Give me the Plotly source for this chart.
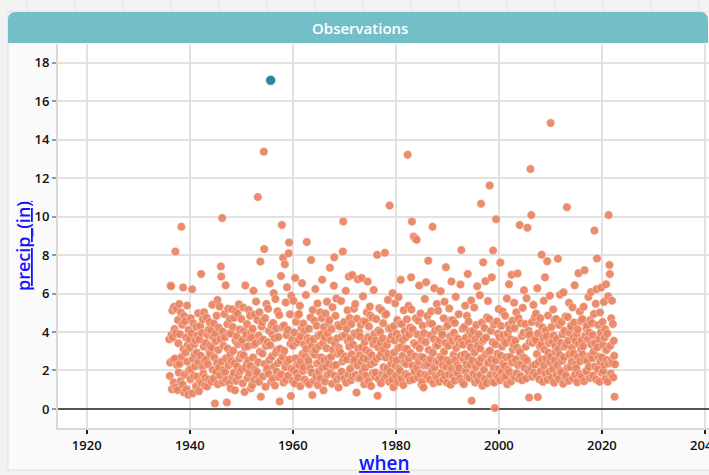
import plotly.graph_objects as go

# ---------------- data (monthly precipitation, inches) ----------------
start_year = 1936
precip_by_year = [
    [3.62, 1.71, 2.41, 6.42, 6.38, 3.85, 1.02, 5.12, 3.71, 2.55, 1.38, 5.31],   # 1936
    [4.15, 2.62, 8.18, 1.12, 3.93, 5.21, 2.28, 0.98, 4.62, 3.41, 1.89, 5.45],   # 1937
    [2.35, 3.88, 1.45, 5.02, 9.47, 2.71, 4.38, 1.26, 6.31, 3.12, 0.86, 4.82],   # 1938
    [1.78, 4.56, 2.94, 3.71, 1.02, 5.38, 2.46, 3.33, 0.74, 4.11, 2.02, 3.62],   # 1939
    [3.18, 1.55, 4.72, 2.08, 3.94, 6.22, 0.81, 2.61, 4.45, 1.73, 3.36, 2.84],   # 1940
    [2.22, 3.57, 1.19, 4.27, 2.93, 1.68, 3.82, 4.98, 2.45, 0.92, 3.61, 1.43],   # 1941
    [4.31, 2.77, 7.02, 1.36, 3.95, 2.19, 4.66, 1.84, 3.24, 5.03, 2.51, 1.21],   # 1942
    [1.62, 3.44, 2.58, 4.74, 1.17, 3.86, 2.33, 4.12, 1.53, 2.96, 4.51, 3.27],   # 1943
    [2.86, 4.09, 1.42, 3.18, 5.42, 2.04, 3.73, 1.58, 4.44, 2.67, 0.28, 3.91],   # 1944
    [3.52, 1.93, 4.85, 2.38, 5.66, 1.29, 3.07, 4.23, 2.16, 5.32, 1.74, 3.64],   # 1945
    [7.41, 6.88, 2.47, 9.92, 4.02, 1.38, 3.29, 2.03, 4.93, 3.71, 1.91, 6.43],   # 1946
    [2.64, 1.51, 0.34, 4.41, 3.14, 5.21, 2.27, 3.92, 1.33, 4.68, 2.83, 1.06],   # 1947
    [3.92, 2.49, 5.18, 1.67, 4.26, 3.03, 1.88, 4.74, 2.36, 0.97, 3.55, 5.06],   # 1948
    [1.46, 3.78, 2.21, 4.95, 3.36, 1.72, 5.44, 2.62, 4.13, 1.96, 3.47, 2.83],   # 1949
    [4.67, 2.06, 3.58, 1.34, 5.27, 2.79, 4.06, 0.88, 3.21, 6.42, 2.14, 3.86],   # 1950
    [2.33, 4.41, 1.61, 3.26, 2.52, 5.14, 1.87, 3.67, 4.84, 2.24, 1.08, 3.99],   # 1951
    [3.71, 1.24, 4.17, 2.68, 6.14, 3.34, 1.53, 4.91, 2.05, 3.42, 5.58, 1.79],   # 1952
    [1.92, 4.62, 11.02, 2.43, 3.81, 1.41, 5.03, 2.97, 7.66, 0.64, 3.54, 4.28],  # 1953
    [4.52, 2.88, 1.69, 3.61, 13.37, 8.31, 2.34, 4.72, 1.16, 3.27, 5.46, 2.02],  # 1954
    [2.11, 3.47, 5.21, 1.83, 4.06, 2.55, 6.52, 3.31, 17.08, 1.42, 4.37, 2.74], # 1955
    [3.86, 1.58, 4.47, 6.02, 2.21, 3.69, 1.22, 5.71, 2.93, 4.18, 1.93, 3.07],   # 1956
    [5.08, 2.39, 3.74, 1.66, 4.88, 0.39, 3.13, 2.51, 6.91, 1.79, 9.56, 4.26],   # 1957
    [2.72, 7.86, 1.37, 4.34, 3.02, 7.52, 2.18, 5.53, 1.51, 3.84, 6.33, 2.45],   # 1958
    [4.11, 1.74, 8.09, 8.65, 2.57, 4.92, 3.39, 0.67, 5.88, 2.09, 3.61, 1.45],   # 1959
    [3.28, 5.62, 2.02, 3.97, 1.32, 6.81, 2.63, 4.53, 1.87, 3.46, 2.31, 4.87],   # 1960
    [1.64, 3.59, 4.93, 2.27, 5.36, 1.18, 3.78, 2.49, 4.21, 6.54, 2.86, 1.97],   # 1961
    [4.44, 2.17, 3.36, 1.53, 4.08, 2.74, 5.92, 3.12, 8.68, 1.39, 3.69, 2.58],   # 1962
    [2.47, 4.17, 1.29, 3.53, 2.11, 4.76, 7.74, 1.89, 3.27, 0.72, 5.14, 2.94],   # 1963
    [3.63, 1.47, 4.58, 2.82, 6.23, 3.09, 1.71, 4.32, 2.36, 5.48, 1.23, 3.81],   # 1964
    [1.95, 3.27, 2.44, 5.03, 1.59, 3.88, 2.68, 4.71, 6.72, 2.15, 3.43, 0.97],   # 1965
    [4.26, 2.53, 3.71, 1.42, 4.96, 2.19, 3.16, 5.57, 1.78, 3.94, 2.62, 4.48],   # 1966
    [2.36, 4.62, 7.34, 1.86, 3.57, 2.71, 4.15, 1.31, 5.29, 3.08, 2.24, 6.41],   # 1967
    [7.88, 1.73, 3.42, 4.84, 2.29, 5.74, 1.51, 3.68, 2.87, 4.37, 1.12, 3.18],   # 1968
    [3.02, 4.28, 1.67, 2.91, 5.61, 1.94, 3.76, 2.47, 8.18, 9.75, 2.61, 4.52],   # 1969
    [1.58, 3.83, 2.73, 6.14, 1.36, 4.16, 2.58, 5.13, 3.52, 1.81, 6.88, 3.24],   # 1970
    [4.73, 2.09, 3.66, 1.49, 4.42, 2.84, 6.96, 1.69, 3.34, 2.46, 5.21, 3.93],   # 1971
    [2.57, 5.46, 1.77, 3.87, 0.85, 4.69, 2.26, 6.74, 3.14, 1.59, 4.02, 2.79],   # 1972
    [3.77, 1.62, 4.38, 2.47, 6.81, 3.21, 1.94, 5.86, 2.64, 4.56, 1.28, 3.49],   # 1973
    [2.14, 4.51, 3.06, 1.73, 5.03, 2.58, 6.62, 3.73, 1.44, 4.28, 2.92, 5.32],   # 1974
    [4.86, 2.31, 1.19, 3.64, 2.78, 4.74, 1.86, 3.37, 6.18, 2.41, 3.91, 1.67],   # 1975
    [1.89, 3.56, 4.67, 2.62, 8.01, 0.69, 3.21, 4.08, 1.55, 5.24, 2.73, 3.99],   # 1976
    [3.46, 1.34, 2.91, 5.12, 1.81, 3.68, 4.46, 2.17, 3.11, 1.62, 8.12, 4.88],   # 1977
    [2.67, 4.93, 1.73, 3.33, 2.12, 5.67, 2.86, 4.19, 1.41, 10.57, 3.62, 1.92],  # 1978
    [4.18, 2.36, 3.79, 1.52, 6.02, 2.66, 1.13, 4.31, 2.94, 3.56, 5.49, 2.23],   # 1979
    [1.73, 3.92, 2.53, 4.62, 1.39, 3.17, 5.82, 2.09, 3.68, 1.98, 4.43, 6.71],   # 1980
    [3.22, 1.58, 4.41, 2.76, 3.59, 1.24, 5.13, 2.42, 4.04, 3.14, 1.81, 3.73],   # 1981
    [2.34, 4.66, 3.12, 13.21, 1.71, 5.36, 2.63, 3.88, 1.48, 4.24, 2.91, 6.84],  # 1982
    [5.17, 9.74, 2.26, 4.13, 1.54, 8.96, 3.42, 1.94, 8.88, 2.73, 4.71, 3.31],   # 1983
    [8.79, 2.18, 3.87, 1.63, 4.58, 2.47, 6.42, 3.16, 1.84, 4.96, 2.71, 1.27],   # 1984
    [3.59, 1.42, 4.32, 2.68, 1.11, 3.94, 2.26, 5.72, 1.77, 3.47, 6.59, 2.43],   # 1985
    [2.29, 4.83, 1.68, 7.71, 3.06, 2.36, 4.46, 1.52, 3.82, 2.61, 5.08, 1.96],   # 1986
    [4.42, 9.47, 2.93, 1.34, 3.64, 6.28, 2.16, 4.07, 1.71, 3.28, 2.48, 5.46],   # 1987
    [1.61, 3.31, 5.11, 2.46, 4.16, 1.41, 3.58, 2.71, 6.12, 1.88, 3.98, 2.62],   # 1988
    [3.86, 2.27, 1.53, 4.71, 2.98, 5.57, 1.73, 3.43, 7.37, 2.19, 4.28, 1.36],   # 1989
    [2.53, 4.36, 3.28, 1.79, 5.22, 2.41, 3.76, 1.26, 4.61, 6.62, 2.08, 3.54],   # 1990
    [4.61, 1.71, 2.82, 3.96, 1.47, 4.47, 2.54, 5.83, 3.17, 1.92, 3.69, 2.26],   # 1991
    [1.84, 3.63, 4.92, 2.13, 3.38, 1.58, 6.47, 2.77, 8.26, 3.51, 1.39, 4.17],   # 1992
    [3.34, 2.58, 1.28, 4.26, 2.84, 5.37, 1.96, 3.72, 2.31, 4.84, 1.67, 7.02],   # 1993
    [2.71, 4.54, 3.46, 1.61, 4.02, 2.29, 3.19, 5.64, 0.43, 3.84, 2.52, 1.86],   # 1994
    [4.07, 1.82, 5.27, 2.94, 1.37, 3.61, 2.18, 4.37, 1.69, 6.38, 3.29, 2.47],   # 1995
    [1.48, 3.87, 2.39, 5.91, 3.14, 1.78, 10.67, 2.64, 4.49, 1.21, 3.53, 7.62],  # 1996
    [3.62, 2.04, 4.21, 1.56, 6.64, 2.84, 3.71, 1.34, 4.76, 2.37, 5.61, 2.97],   # 1997
    [2.43, 4.68, 11.61, 3.03, 1.77, 4.06, 2.58, 6.84, 1.41, 3.47, 8.24, 2.16],  # 1998
    [4.39, 1.37, 0.05, 3.36, 2.52, 9.86, 1.79, 4.54, 2.87, 3.91, 1.62, 5.19],   # 1999
    [2.08, 3.72, 1.49, 7.61, 2.76, 4.31, 1.92, 3.24, 5.07, 2.36, 3.84, 1.63],   # 2000
    [3.51, 2.24, 4.84, 1.71, 3.43, 2.69, 5.74, 1.28, 3.92, 2.04, 4.36, 6.48],   # 2001
    [1.92, 4.16, 2.71, 3.62, 1.43, 6.97, 2.41, 4.58, 3.09, 1.74, 3.36, 5.52],   # 2002
    [4.21, 1.64, 3.54, 2.57, 5.03, 1.86, 3.18, 7.04, 2.28, 4.72, 1.57, 3.03],   # 2003
    [9.56, 2.93, 1.71, 4.46, 2.34, 3.79, 1.49, 5.26, 2.69, 3.96, 6.17, 2.13],   # 2004
    [2.64, 4.41, 3.23, 1.58, 5.76, 2.52, 9.42, 3.87, 1.96, 4.06, 0.59, 3.48],   # 2005
    [3.86, 12.47, 2.14, 10.08, 4.52, 1.67, 3.44, 2.26, 5.41, 1.88, 3.62, 4.78], # 2006
    [2.31, 3.58, 4.96, 1.74, 2.86, 6.28, 0.62, 3.93, 2.44, 4.41, 1.53, 3.26],   # 2007
    [4.72, 1.97, 3.36, 8.02, 2.58, 4.23, 1.41, 3.71, 5.63, 2.27, 3.08, 6.84],   # 2008
    [1.83, 4.08, 2.63, 3.78, 7.68, 1.52, 4.86, 2.93, 3.43, 1.94, 5.88, 2.44],   # 2009
    [14.86, 2.71, 4.26, 1.62, 3.49, 2.11, 5.17, 3.82, 1.36, 4.62, 2.52, 3.26],  # 2010
    [2.96, 4.67, 1.78, 3.64, 2.27, 7.81, 3.12, 1.57, 4.37, 2.81, 5.94, 1.98],   # 2011
    [3.43, 1.91, 4.53, 2.51, 3.88, 1.31, 6.06, 2.69, 4.06, 3.24, 1.64, 4.81],   # 2012
    [1.74, 3.34, 10.49, 2.14, 4.78, 3.56, 1.46, 5.52, 2.84, 3.96, 2.18, 4.34],  # 2013
    [4.28, 2.47, 3.17, 5.28, 1.57, 3.71, 2.88, 4.49, 6.43, 1.81, 3.53, 2.32],   # 2014
    [2.12, 3.92, 1.39, 4.14, 2.69, 7.06, 3.38, 1.82, 5.07, 2.48, 4.56, 3.11],   # 2015
    [3.58, 1.69, 4.67, 2.83, 3.26, 5.31, 1.44, 7.21, 2.54, 3.81, 1.97, 4.21],   # 2016
    [1.96, 4.34, 2.52, 3.62, 5.82, 2.19, 3.97, 1.61, 4.62, 2.77, 6.08, 3.36],   # 2017
    [4.46, 2.64, 3.84, 1.74, 2.98, 4.94, 9.27, 3.42, 2.21, 5.47, 1.53, 6.22],   # 2018
    [7.82, 3.21, 2.06, 4.37, 2.71, 3.64, 1.42, 5.02, 2.46, 3.97, 6.31, 1.88],   # 2019
    [2.68, 4.52, 3.33, 1.96, 5.56, 2.29, 3.71, 4.14, 1.56, 6.48, 3.06, 2.54],   # 2020
    [3.92, 1.41, 5.86, 10.08, 2.36, 7.48, 7.01, 3.28, 1.84, 4.71, 2.52, 5.63],  # 2021
    [2.38, 4.42, 1.64, 3.54, 2.76, 0.64, 2.32],                                 # 2022
]
selected_year, selected_month = 1955, 9   # highlighted (selected) case

x_ticks = [1920, 1940, 1960, 1980, 2000, 2020, 2040]
y_ticks = [0, 2, 4, 6, 8, 10, 12, 14, 16, 18]

# ---------------- build the observation table ----------------
when, precip = [], []
sel_when, sel_precip = [], []
for i, row in enumerate(precip_by_year):
    yr = start_year + i
    for m, v in enumerate(row):
        t = yr + (m + 0.5) / 12.0
        if yr == selected_year and m + 1 == selected_month:
            sel_when.append(t)
            sel_precip.append(v)
        else:
            when.append(t)
            precip.append(v)

# ---------------- geometry ----------------
W, H = 709, 475
L, R, T, B = 58, 0, 44, 47
PW, PH = W - L - R, H - T - B


def px(xpix):
    return (xpix - L) / PW


def py(ypix):
    return (H - B - ypix) / PH


ORANGE = "#ea8460"
TEAL = "#2b889b"
BAR = "#72bfc8"
LINK = "#1414ff"

fig = go.Figure()
fig.add_trace(go.Scatter(
    x=when, y=precip, mode="markers",
    marker=dict(size=8.5, color=ORANGE, opacity=0.92,
                line=dict(color="rgba(255,255,255,0.7)", width=0.6)),
    hoverinfo="skip", showlegend=False,
))
fig.add_trace(go.Scatter(
    x=sel_when, y=sel_precip, mode="markers",
    marker=dict(size=10, color=TEAL, line=dict(color="white", width=0.6)),
    hoverinfo="skip", showlegend=False,
))

shapes = []
# faint page grid above the panel
for xp_ in range(27, W, 48):
    shapes.append(dict(type="line", xref="paper", yref="paper",
                       x0=px(xp_), x1=px(xp_), y0=py(0), y1=py(12),
                       line=dict(color="#e4e4e4", width=1), layer="below"))
# panel background
shapes.append(dict(type="rect", xref="paper", yref="paper",
                   x0=px(8), x1=px(716), y0=py(470), y1=py(12),
                   fillcolor="#fafafa", line=dict(color="#e0e0e0", width=1),
                   layer="below"))
# plot area background
shapes.append(dict(type="rect", xref="paper", yref="paper",
                   x0=0, x1=1, y0=0, y1=1,
                   fillcolor="white", line=dict(width=0), layer="below"))
# title bar with rounded top corners
x0, x1, y0, y1 = px(8), px(708), py(43), py(12)
rx, ry = 8 / PW, 8 / PH
path = (f"M {x0},{y0} L {x0},{y1 - ry} Q {x0},{y1} {x0 + rx},{y1} "
        f"L {x1 - rx},{y1} Q {x1},{y1} {x1},{y1 - ry} L {x1},{y0} Z")
shapes.append(dict(type="path", xref="paper", yref="paper", path=path,
                   fillcolor=BAR, line=dict(width=0), layer="below"))

annotations = [
    dict(text="Observations", xref="paper", yref="paper",
         x=px(360), y=py(27.5), xanchor="center", yanchor="middle",
         showarrow=False,
         font=dict(family="Open Sans", size=15, color="white", weight=600)),
    dict(text='<span style="text-decoration:underline">precip_(in)</span>',
         xref="paper", yref="paper", x=px(23), y=py(246), textangle=-90,
         xanchor="center", yanchor="middle", showarrow=False,
         font=dict(family="Open Sans", size=18, color=LINK, weight=600)),
    dict(text='<span style="text-decoration:underline">when</span>',
         xref="paper", yref="paper", x=px(384), y=py(463),
         xanchor="center", yanchor="middle", showarrow=False,
         font=dict(family="Open Sans", size=19, color=LINK, weight=600)),
]

fig.update_layout(
    width=W, height=H,
    margin=dict(l=L, r=R, t=T, b=B, pad=0),
    paper_bgcolor="#f2f2f2",
    plot_bgcolor="rgba(0,0,0,0)",
    shapes=shapes,
    annotations=annotations,
    font=dict(family="Open Sans", color="#111"),
)
fig.update_xaxes(
    range=[1914.43, 2040.78], tickvals=x_ticks, ticktext=[str(v) for v in x_ticks],
    showgrid=True, gridcolor="#e2e2e2", gridwidth=1.5,
    showline=True, linecolor="#d8d8d8", linewidth=2,
    ticks="outside", ticklen=4, tickwidth=2, tickcolor="#222",
    tickfont=dict(family="Open Sans", size=13, color="#111", weight=600),
    ticklabeloverflow="allow",
    zeroline=False, automargin=False,
)
fig.update_yaxes(
    range=[-0.99, 18.97], tickvals=y_ticks,
    showgrid=True, gridcolor="#e2e2e2", gridwidth=1.5,
    showline=True, linecolor="#d8d8d8", linewidth=2,
    ticks="outside", ticklen=4, tickwidth=1.5, tickcolor="#999",
    tickfont=dict(family="Open Sans", size=13, color="#111", weight=600),
    zeroline=True, zerolinecolor="#555", zerolinewidth=2, automargin=False,
)

fig.write_html(
    "out.html",
    config={"displayModeBar": False},
    post_script="document.body.style.margin='0';document.body.style.overflow='hidden';",
)
